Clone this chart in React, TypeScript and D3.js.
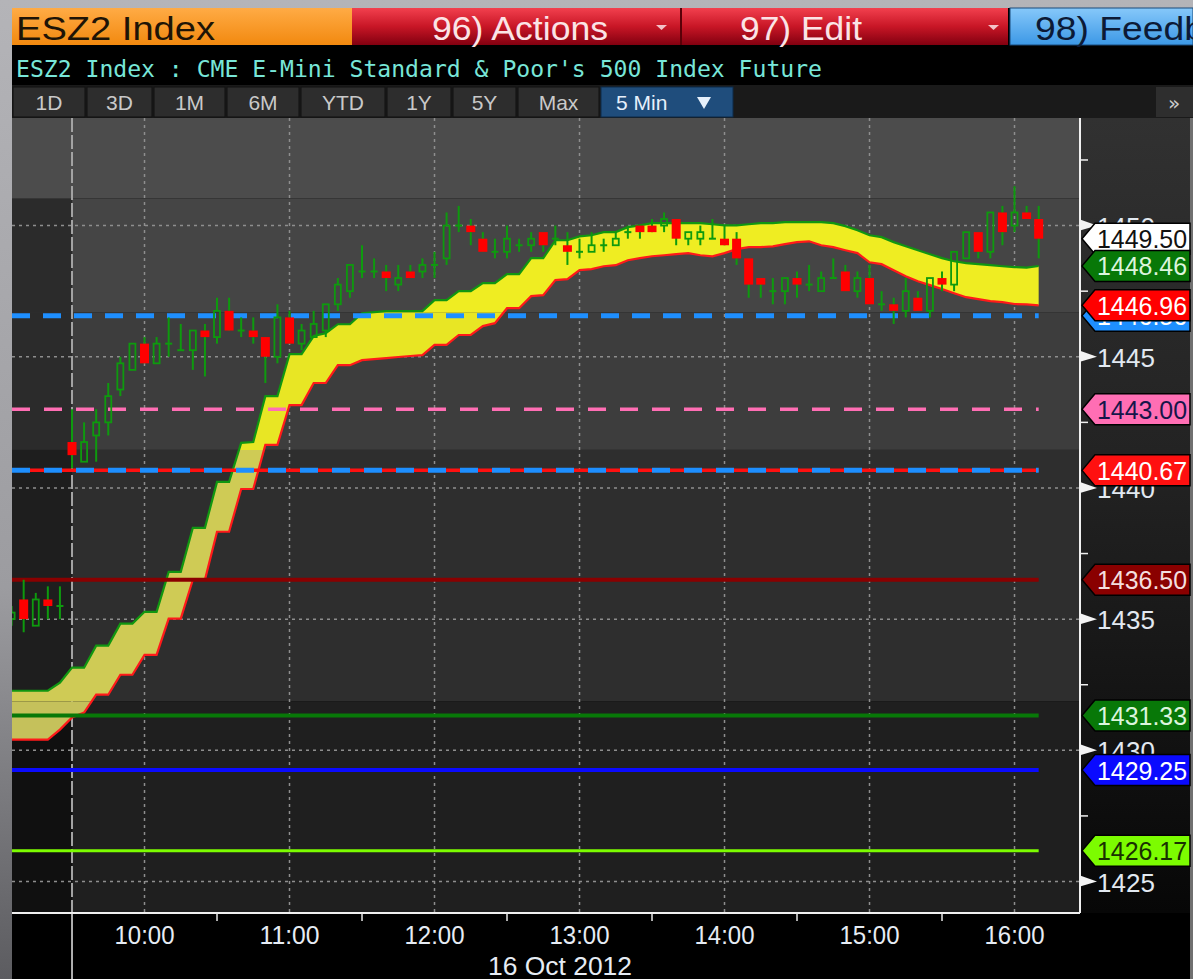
import React from 'react';
import * as d3 from 'd3';

// 5 minute bars, 16 Oct 2012
const barTimes = [
  '09:05', '09:10', '09:15', '09:20', '09:25',
  '09:30', '09:35', '09:40', '09:45', '09:50', '09:55',
  '10:00', '10:05', '10:10', '10:15', '10:20', '10:25', '10:30', '10:35', '10:40', '10:45', '10:50', '10:55',
  '11:00', '11:05', '11:10', '11:15', '11:20', '11:25', '11:30', '11:35', '11:40', '11:45', '11:50', '11:55',
  '12:00', '12:05', '12:10', '12:15', '12:20', '12:25', '12:30', '12:35', '12:40', '12:45', '12:50', '12:55',
  '13:00', '13:05', '13:10', '13:15', '13:20', '13:25', '13:30', '13:35', '13:40', '13:45', '13:50', '13:55',
  '14:00', '14:05', '14:10', '14:15', '14:20', '14:25', '14:30', '14:35', '14:40', '14:45', '14:50', '14:55',
  '15:00', '15:05', '15:10', '15:15', '15:20', '15:25', '15:30', '15:35', '15:40', '15:45', '15:50', '15:55',
  '16:00', '16:05', '16:10',
];

const opens = [
  1435.00, 1435.75, 1434.75, 1435.75, 1435.50,
  1441.75, 1441.00, 1442.00, 1442.50, 1443.75, 1444.50,
  1445.50, 1444.75, 1445.50, 1445.25, 1445.25, 1446.00, 1445.75, 1446.75, 1446.00, 1446.00, 1445.75, 1445.00,
  1446.50, 1445.50, 1445.75, 1446.00, 1447.00, 1447.50, 1448.25, 1448.25, 1448.25, 1447.75, 1448.25, 1448.25,
  1448.50, 1448.75, 1450.00, 1450.00, 1449.50, 1449.00, 1449.00, 1449.25, 1449.25, 1449.75, 1449.50, 1449.25,
  1449.00, 1449.00, 1449.25, 1449.25, 1449.75, 1450.00, 1450.00, 1450.00, 1450.25, 1449.50, 1449.50, 1449.50,
  1449.50, 1449.50, 1448.75, 1448.00, 1447.50, 1447.50, 1448.00, 1447.75, 1447.50, 1448.00, 1448.25, 1447.50,
  1448.00, 1447.00, 1447.00, 1446.75, 1447.25, 1446.75, 1448.00, 1447.75, 1448.75, 1449.75, 1449.00, 1450.50,
  1450.00, 1450.50, 1450.25,
];
const highs = [
  1435.50, 1436.50, 1436.00, 1436.25, 1436.25,
  1443.00, 1442.50, 1443.00, 1444.00, 1445.00, 1445.50,
  1445.75, 1445.75, 1446.50, 1446.25, 1446.00, 1446.25, 1447.25, 1447.25, 1446.50, 1446.50, 1445.75, 1447.00,
  1446.75, 1446.25, 1446.75, 1447.00, 1448.00, 1448.50, 1449.25, 1448.75, 1448.50, 1448.50, 1448.50, 1448.75,
  1449.00, 1450.50, 1450.75, 1450.25, 1449.75, 1449.50, 1450.00, 1449.50, 1449.75, 1449.75, 1450.00, 1449.75,
  1449.50, 1449.75, 1449.50, 1449.75, 1450.00, 1450.00, 1450.25, 1450.50, 1450.25, 1449.75, 1450.00, 1450.25,
  1450.00, 1449.75, 1448.75, 1448.00, 1448.00, 1448.00, 1448.25, 1448.50, 1448.25, 1448.75, 1448.50, 1448.25,
  1448.50, 1447.50, 1447.25, 1448.00, 1447.50, 1448.00, 1448.25, 1449.00, 1449.75, 1449.75, 1450.50, 1450.75,
  1451.50, 1450.75, 1450.75,
];
const lows = [
  1434.75, 1434.50, 1434.75, 1435.00, 1435.00,
  1440.75, 1441.00, 1441.00, 1442.00, 1443.50, 1444.50,
  1444.75, 1444.75, 1445.00, 1445.25, 1444.50, 1444.25, 1445.50, 1446.00, 1445.75, 1445.50, 1444.00, 1444.75,
  1445.50, 1445.25, 1445.75, 1445.75, 1446.75, 1447.25, 1448.00, 1448.00, 1447.50, 1447.50, 1448.00, 1448.00,
  1448.00, 1448.50, 1449.75, 1449.25, 1449.00, 1448.75, 1448.75, 1449.00, 1449.00, 1449.00, 1449.25, 1448.50,
  1448.75, 1449.00, 1449.00, 1449.25, 1449.50, 1449.50, 1449.75, 1449.75, 1449.25, 1449.25, 1449.25, 1449.50,
  1449.25, 1448.50, 1447.25, 1447.25, 1447.00, 1447.00, 1447.25, 1447.50, 1447.50, 1448.00, 1447.50, 1447.25,
  1447.00, 1446.75, 1446.25, 1446.50, 1446.75, 1446.50, 1447.50, 1447.50, 1448.75, 1448.75, 1448.75, 1449.25,
  1449.75, 1450.25, 1448.75,
];
const closes = [
  1435.25, 1435.00, 1435.75, 1435.50, 1435.50,
  1441.25, 1441.75, 1442.50, 1443.50, 1444.75, 1445.50,
  1444.75, 1445.50, 1445.50, 1445.25, 1446.00, 1445.75, 1446.75, 1446.00, 1446.00, 1445.75, 1445.00, 1446.50,
  1445.50, 1446.00, 1446.25, 1447.00, 1447.75, 1448.50, 1448.25, 1448.25, 1448.00, 1448.00, 1448.00, 1448.50,
  1448.50, 1450.00, 1450.00, 1449.75, 1449.00, 1449.00, 1449.50, 1449.25, 1449.50, 1449.25, 1449.50, 1449.00,
  1449.00, 1449.25, 1449.25, 1449.50, 1449.75, 1449.75, 1449.75, 1450.25, 1449.50, 1449.75, 1449.75, 1449.50,
  1449.25, 1448.75, 1447.75, 1447.75, 1447.50, 1448.00, 1447.75, 1447.75, 1448.00, 1448.00, 1447.50, 1448.00,
  1447.00, 1447.00, 1446.75, 1447.50, 1446.75, 1448.00, 1447.75, 1449.00, 1449.75, 1449.00, 1450.50, 1449.75,
  1450.50, 1450.25, 1449.50,
];

// envelope study (yellow band)
const upperBand = [
  1432.27, 1432.27, 1432.27, 1432.27, 1432.58,
  1433.15, 1433.15, 1433.99, 1433.99, 1434.83, 1434.83,
  1435.28, 1435.28, 1436.80, 1436.80, 1438.48, 1438.48, 1440.23, 1440.23, 1441.72, 1441.75, 1443.50, 1443.50,
  1445.10, 1445.10, 1445.79, 1445.90, 1446.24, 1446.24, 1446.66, 1446.70, 1446.74, 1446.74, 1446.74, 1446.74,
  1447.16, 1447.16, 1447.50, 1447.50, 1447.81, 1447.81, 1448.15, 1448.15, 1448.76, 1448.76, 1449.44, 1449.44,
  1449.59, 1449.63, 1449.75, 1449.75, 1449.94, 1450.01, 1450.09, 1450.09, 1450.09, 1450.09, 1450.09, 1450.05,
  1450.01, 1450.01, 1450.05, 1450.09, 1450.09, 1450.13, 1450.13, 1450.13, 1450.13, 1450.09, 1449.98, 1449.82,
  1449.63, 1449.56, 1449.37, 1449.21, 1449.06, 1448.91, 1448.76, 1448.64, 1448.57, 1448.53, 1448.49, 1448.45,
  1448.42, 1448.40, 1448.46,
];
const lowerBand = [
  1430.41, 1430.41, 1430.41, 1430.41, 1430.79,
  1431.25, 1431.44, 1432.12, 1432.12, 1432.88, 1432.88,
  1433.64, 1433.64, 1435.02, 1435.02, 1436.50, 1436.50, 1438.33, 1438.33, 1439.96, 1439.96, 1441.64, 1441.64,
  1443.16, 1443.16, 1444.00, 1444.00, 1444.68, 1444.68, 1444.87, 1444.91, 1444.95, 1444.99, 1445.03, 1445.06,
  1445.45, 1445.45, 1445.83, 1445.83, 1446.17, 1446.28, 1446.85, 1446.85, 1447.31, 1447.35, 1447.92, 1447.96,
  1448.30, 1448.34, 1448.45, 1448.49, 1448.68, 1448.76, 1448.83, 1448.87, 1448.91, 1448.95, 1448.87, 1448.83,
  1448.95, 1449.10, 1449.18, 1449.18, 1449.21, 1449.29, 1449.37, 1449.40, 1449.25, 1449.18, 1449.06, 1448.95,
  1448.60, 1448.53, 1448.30, 1448.07, 1447.88, 1447.73, 1447.58, 1447.42, 1447.27, 1447.20, 1447.12, 1447.08,
  1447.01, 1447.00, 1446.96,
];

// horizontal study levels
const levelValues = [1446.56, 1443.00, 1440.67, 1440.67, 1436.50, 1431.33, 1429.25, 1426.17];
const levelStyles = [
  { color: '#1e8fff', width: 5, dash: '18,13', tag: true, text: '#ffffff' },
  { color: '#ff6eb4', width: 3.5, dash: '18,14', tag: true, text: '#15154a' },
  { color: '#ff1010', width: 3.5, dash: '', tag: true, text: '#ffffff' },
  { color: '#1e8fff', width: 5, dash: '18,14', tag: false, text: '#ffffff' },
  { color: '#8a0000', width: 4, dash: '', tag: true, text: '#f4dede' },
  { color: '#087808', width: 4, dash: '', tag: true, text: '#dcf5dc' },
  { color: '#0a0aff', width: 4, dash: '', tag: true, text: '#ffffff' },
  { color: '#7cfc00', width: 3, dash: '', tag: true, text: '#183000' },
];

// background shading boundaries (price)
const shadeLevels = [1451.03, 1446.70, 1441.45, 1431.86];
const shadeMain = ['#4c4c4c', '#454545', '#3d3d3d', '#2e2e2e', '#1f1f1f'];
const shadePre = ['#4c4c4c', '#2b2b2b', '#2b2b2b', '#1e1e1e', '#101010'];
const cloudFill = ['#efed22', '#efed22', '#e8e624', '#cfcb55', '#c5c15b'];

const priceTicks = [1425, 1430, 1435, 1440, 1445, 1450];
const minorTicks = [1427.5, 1432.5, 1437.5, 1442.5, 1447.5, 1452.5];
const sessionStart = '09:30';
const viewStart = '09:05:10';
const viewEnd = '16:27:06';

const buttons = ['1D', '3D', '1M', '6M', 'YTD', '1Y', '5Y', 'Max'];
const buttonEdges = [12, 86, 153, 226, 300, 386, 452, 517, 600];

const PLOT = { left: 12, right: 1080, top: 118, bottom: 913 };
const WICK = '#0e9a0e';
const SANS = '"Liberation Sans", Arial, sans-serif';

const day = (s: string) => {
  const [h, m, sec = 0] = s.split(':').map(Number);
  return new Date(2012, 9, 16, h, m, sec);
};

const tagPath = (yc: number) =>
  `M1082,${yc} L1095,${yc - 15.5} L1190,${yc - 15.5} L1190,${yc + 15.5} L1095,${yc + 15.5} Z`;

const Tag = ({ yc, fill, color, label }: { yc: number; fill: string; color: string; label: string }) => (
  <g>
    <path d={tagPath(yc)} fill={fill} stroke="#000" strokeWidth={1.5} />
    <text x={1097} y={yc + 9.5} fontSize={26} fill={color} fontFamily={SANS}
      textLength={90} lengthAdjust="spacingAndGlyphs">{label}</text>
  </g>
);

export default function App() {
  const bars = barTimes.map((t, i) => ({
    t: day(t), o: opens[i], h: highs[i], l: lows[i], c: closes[i], up: upperBand[i], lo: lowerBand[i],
  }));
  type Bar = typeof bars[number];

  const x = d3.scaleTime().domain([day(viewStart), day(viewEnd)]).range([PLOT.left, PLOT.right]);
  const y = d3.scaleLinear().domain([1423.8, 1454.1]).range([PLOT.bottom, PLOT.top]);

  const hourTicks = x.ticks(d3.timeHour.every(1)!);
  const halfTicks = d3.timeMinute.every(30)!.range(day('10:00'), day(viewEnd)).filter(d => d.getMinutes() === 30);
  const fmt = d3.timeFormat('%H:%M');
  const xs = x(day(sessionStart));

  const cloud = d3.area<Bar>().x(d => x(d.t)).y0(d => y(d.lo)).y1(d => y(d.up));
  const upLine = d3.line<Bar>().x(d => x(d.t)).y(d => y(d.up));
  const loLine = d3.line<Bar>().x(d => x(d.t)).y(d => y(d.lo));

  const bounds = [y.domain()[1], ...shadeLevels, y.domain()[0]];
  const shades = bounds.slice(0, -1).map((top, k) => ({ y0: y(top), y1: y(bounds[k + 1]) }));

  const last = bars[bars.length - 1];
  const xEnd = x(last.t);
  const pw = PLOT.right - PLOT.left;

  return (
    <svg width={1193} height={979} style={{ position: 'absolute', left: 0, top: 0 }} fontFamily={SANS}>
      <defs>
        <linearGradient id="frame" x1="0" y1="0" x2="0" y2="1">
          <stop offset="0" stopColor="#b4b4b8" />
          <stop offset="0.6" stopColor="#9c9ca0" />
          <stop offset="1" stopColor="#5c5c60" />
        </linearGradient>
        <linearGradient id="orange" x1="0" y1="0" x2="0" y2="1">
          <stop offset="0" stopColor="#ffab45" />
          <stop offset="1" stopColor="#f2890f" />
        </linearGradient>
        <linearGradient id="red" x1="0" y1="0" x2="0" y2="1">
          <stop offset="0" stopColor="#f2404e" />
          <stop offset="0.5" stopColor="#c81626" />
          <stop offset="1" stopColor="#820010" />
        </linearGradient>
        <linearGradient id="blue" x1="0" y1="0" x2="0" y2="1">
          <stop offset="0" stopColor="#86c8fa" />
          <stop offset="1" stopColor="#3c98e6" />
        </linearGradient>
        <linearGradient id="axisbg" x1="0" y1="0" x2="0" y2="1">
          <stop offset="0" stopColor="#313131" />
          <stop offset="0.45" stopColor="#222222" />
          <stop offset="1" stopColor="#070707" />
        </linearGradient>
        <clipPath id="plot">
          <rect x={PLOT.left} y={PLOT.top} width={pw} height={PLOT.bottom - PLOT.top} />
        </clipPath>
        {shades.map((s, k) => (
          <clipPath id={`shade${k}`} key={k}>
            <rect x={PLOT.left} y={s.y0} width={pw} height={s.y1 - s.y0} />
          </clipPath>
        ))}
      </defs>

      {/* window frame */}
      <rect width={1193} height={979} fill="url(#frame)" />
      <rect x={12} y={8} width={1181} height={971} fill="#000" />

      {/* header */}
      <rect x={12} y={8} width={340} height={37} fill="url(#orange)" />
      <text x={16} y={40} fontSize={34} fill="#1e1406" textLength={199} lengthAdjust="spacingAndGlyphs">ESZ2 Index</text>
      <rect x={352} y={8} width={656} height={37} fill="url(#red)" />
      <line x1={681} x2={681} y1={8} y2={45} stroke="#5a0008" strokeWidth={2} />
      <text x={432} y={40} fontSize={33} fill="#fbe4e6" textLength={176} lengthAdjust="spacingAndGlyphs">96) Actions</text>
      <path d="M656,25 L667,25 L661.5,30 Z" fill="#f3c2c8" />
      <text x={740} y={40} fontSize={33} fill="#fbe4e6" textLength={122} lengthAdjust="spacingAndGlyphs">97) Edit</text>
      <path d="M988,25 L999,25 L993.5,30 Z" fill="#f3c2c8" />
      <rect x={1010} y={8} width={183} height={37} fill="url(#blue)" stroke="#1a4a7a" strokeWidth={1} />
      <text x={1035} y={40} fontSize={33} fill="#0c1a36" textLength={170} lengthAdjust="spacingAndGlyphs">98) Feedb</text>

      {/* title */}
      <text x={16} y={77} fontSize={23} fill="#78e6d8" fontFamily='"DejaVu Sans Mono", monospace'
        textLength={806} lengthAdjust="spacingAndGlyphs">
        ESZ2 Index : CME E-Mini Standard &amp; Poor's 500 Index Future
      </text>

      {/* period buttons */}
      <rect x={12} y={85} width={1181} height={33} fill="#1a1a1a" />
      {buttons.map((b, i) => (
        <g key={b}>
          <rect x={buttonEdges[i] + 1} y={87} width={buttonEdges[i + 1] - buttonEdges[i] - 2} height={30}
            fill="#2d2d2d" stroke="#111" strokeWidth={1} />
          <text x={(buttonEdges[i] + buttonEdges[i + 1]) / 2} y={110} fontSize={21} fill="#c9c9c9"
            textAnchor="middle">{b}</text>
        </g>
      ))}
      <rect x={601} y={87} width={132} height={30} fill="#1f4d7c" stroke="#0d2a48" strokeWidth={1} />
      <text x={616} y={110} fontSize={21} fill="#e6f0fb">5 Min</text>
      <path d="M697,97 L711,97 L704,109 Z" fill="#e6f0fb" />
      <rect x={1156} y={87} width={37} height={30} fill="#2e2e2e" />
      <text x={1168} y={110} fontSize={20} fill="#c9c9c9" fontFamily='"DejaVu Sans", sans-serif'>»</text>

      {/* right axis panel */}
      <rect x={PLOT.right} y={PLOT.top} width={110} height={PLOT.bottom - PLOT.top} fill="url(#axisbg)" />
      <rect x={1190} y={PLOT.top} width={3} height={861} fill="#707070" />

      {/* plot background shading */}
      <g>
        {shades.map((s, k) => (
          <g key={k}>
            <rect x={PLOT.left} y={s.y0} width={pw} height={s.y1 - s.y0} fill={shadeMain[k]} />
            <rect x={PLOT.left} y={s.y0} width={xs - PLOT.left} height={s.y1 - s.y0} fill={shadePre[k]} />
          </g>
        ))}
      </g>

      {/* grid */}
      <g stroke="#8e8e8e" strokeWidth={1.5} strokeDasharray="3,4">
        {priceTicks.map(p => (
          <line key={p} x1={PLOT.left} x2={PLOT.right} y1={y(p)} y2={y(p)} />
        ))}
        {hourTicks.map(t => (
          <line key={+t} x1={x(t)} x2={x(t)} y1={PLOT.top} y2={PLOT.bottom} />
        ))}
      </g>
      <line x1={xs} x2={xs} y1={PLOT.top} y2={PLOT.bottom} stroke="#a4a4a4" strokeWidth={2} strokeDasharray="14,3" />

      <g clipPath="url(#plot)">
        {/* envelope */}
        {shades.map((s, k) => (
          <path key={k} d={cloud(bars) ?? ''} fill={cloudFill[k]} clipPath={`url(#shade${k})`} />
        ))}
        <path d={upLine(bars) ?? ''} fill="none" stroke="#119611" strokeWidth={2.2} />
        <path d={loLine(bars) ?? ''} fill="none" stroke="#ff1a1a" strokeWidth={2.2} />

        {/* study levels */}
        {levelValues.map((v, i) => (
          <line key={i} x1={PLOT.left} x2={xEnd} y1={y(v)} y2={y(v)} stroke={levelStyles[i].color}
            strokeWidth={levelStyles[i].width} strokeDasharray={levelStyles[i].dash || undefined} />
        ))}

        {/* candles */}
        {bars.map((d, i) => {
          const cx = x(d.t);
          const yo = y(d.o), yc = y(d.c), yh = y(d.h), yl = y(d.l);
          if (d.c < d.o) {
            return (
              <g key={i}>
                <line x1={cx} x2={cx} y1={yh} y2={yl} stroke={WICK} strokeWidth={2} />
                <rect x={cx - 4.5} y={yo} width={9} height={Math.max(yc - yo, 2)} fill="#ff0000" />
              </g>
            );
          }
          if (d.c > d.o) {
            return (
              <g key={i}>
                <line x1={cx} x2={cx} y1={yh} y2={yc} stroke={WICK} strokeWidth={2} />
                <line x1={cx} x2={cx} y1={yo} y2={yl} stroke={WICK} strokeWidth={2} />
                <rect x={cx - 3} y={yc} width={6} height={yo - yc} fill="none" stroke={WICK} strokeWidth={1.8} />
              </g>
            );
          }
          return (
            <g key={i}>
              <line x1={cx} x2={cx} y1={yh} y2={yl} stroke={WICK} strokeWidth={2} />
              <line x1={cx - 3.5} x2={cx + 3.5} y1={yo} y2={yo} stroke={WICK} strokeWidth={2} />
            </g>
          );
        })}
      </g>

      {/* axes */}
      <line x1={PLOT.right} x2={PLOT.right} y1={PLOT.top} y2={PLOT.bottom} stroke="#f0f0f0" strokeWidth={2} />
      <line x1={PLOT.left} x2={PLOT.right} y1={PLOT.bottom} y2={PLOT.bottom} stroke="#f0f0f0" strokeWidth={2} />
      <line x1={xs} x2={xs} y1={PLOT.bottom} y2={979} stroke="#e8e8e8" strokeWidth={1.5} />
      {halfTicks.map(t => (
        <line key={+t} x1={x(t)} x2={x(t)} y1={PLOT.bottom} y2={PLOT.bottom + 8} stroke="#e8e8e8" strokeWidth={1.5} />
      ))}
      {hourTicks.map(t => (
        <text key={+t} x={x(t)} y={944} fontSize={25} fill="#e6ecf4" textAnchor="middle"
          textLength={60} lengthAdjust="spacingAndGlyphs">{fmt(t)}</text>
      ))}
      <text x={560} y={975} fontSize={25} fill="#e6ecf4" textAnchor="middle"
        textLength={144} lengthAdjust="spacingAndGlyphs">{d3.timeFormat('%d %b %Y')(last.t)}</text>

      {minorTicks.map(p => (
        <line key={p} x1={PLOT.right} x2={PLOT.right + 8} y1={y(p)} y2={y(p)} stroke="#f0f0f0" strokeWidth={1.5} />
      ))}
      {priceTicks.map(p => (
        <g key={p}>
          <path d={`M${PLOT.right},${y(p) - 6} L${PLOT.right + 17},${y(p)} L${PLOT.right},${y(p) + 5} Z`} fill="#f4f4f4" />
          <text x={1097} y={y(p) + 10} fontSize={26} fill="#e2e9f1">{p}</text>
        </g>
      ))}

      {/* value tags */}
      {levelValues.map((v, i) => levelStyles[i].tag ? (
        <Tag key={i} yc={y(v)} fill={levelStyles[i].color} color={levelStyles[i].text} label={v.toFixed(2)} />
      ) : null)}
      <Tag yc={y(last.c)} fill="#ffffff" color="#111111" label={last.c.toFixed(2)} />
      <Tag yc={y(last.up)} fill="#087808" color="#dcf5dc" label={last.up.toFixed(2)} />
      <Tag yc={y(last.lo)} fill="#ff0000" color="#ffffff" label={last.lo.toFixed(2)} />
    </svg>
  );
}
